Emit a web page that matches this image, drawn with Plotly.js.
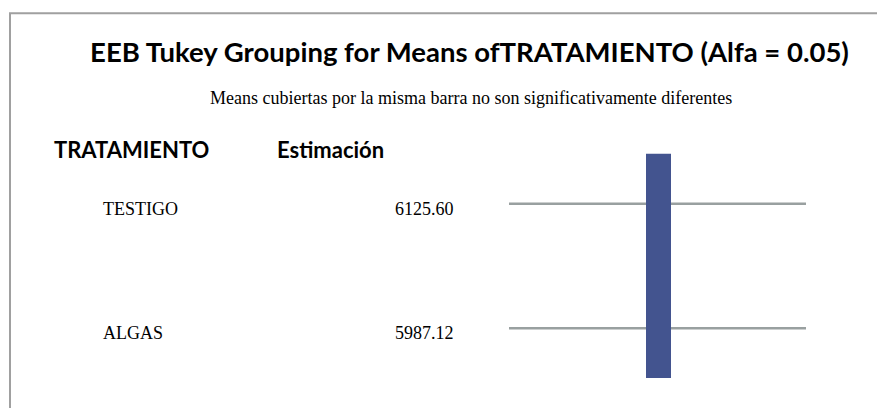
<!DOCTYPE html>
<html>
<head>
<meta charset="utf-8">
<script src="https://cdn.plot.ly/plotly-3.0.1.min.js"></script>
<style>html,body{margin:0;padding:0;background:#fff;}#chart{width:877px;height:408px;}</style>
</head>
<body>
<div id="chart"></div>
<script>
// ---- data ----
var treatments = ["TESTIGO", "ALGAS"];
var estimates = [6125.60, 5987.12];
var groupMembers = [["TESTIGO", "ALGAS"]];   // one Tukey group (same bar)
var headerLabels = ["TRATAMIENTO", "Estimación"];
var titleText = "EEB Tukey Grouping for Means ofTRATAMIENTO (Alfa = 0.05)";
var subtitleText = "Means cubiertas por la misma barra no son significativamente diferentes";

// ---- layout constants (column positions in x-axis units 0..1) ----
var W = 877, H = 408;
var nameX = 101 / W, valueRightX = 456 / W;
var lineX0 = 509 / W, lineX1 = 806 / W;
var barCenters = [658.5 / W], barHalfW = 12.5 / W, barPad = 0.4;

var traces = [];
// guide lines for each treatment row
treatments.forEach(function (t, i) {
  traces.push({
    type: "scatter", mode: "lines", x: [lineX0, lineX1], y: [i, i],
    line: { color: "#99a0a0", width: 2.5 }, hoverinfo: "skip", showlegend: false
  });
});
// group bars
groupMembers.forEach(function (g, k) {
  var idx = g.map(function (m) { return treatments.indexOf(m); });
  var lo = Math.min.apply(null, idx) - barPad, hi = Math.max.apply(null, idx) + barPad;
  var c = barCenters[k];
  traces.push({
    type: "scatter", mode: "lines", fill: "toself", fillcolor: "#43548f",
    x: [c - barHalfW, c + barHalfW, c + barHalfW, c - barHalfW, c - barHalfW],
    y: [lo, lo, hi, hi, lo],
    line: { width: 0, color: "#43548f" }, hoverinfo: "skip", showlegend: false
  });
});

var serif = "Liberation Serif, Times New Roman, serif";
var annotations = [];
treatments.forEach(function (t, i) {
  annotations.push({ xref: "x", yref: "y", x: nameX, y: i, text: t, showarrow: false,
    xanchor: "left", yanchor: "middle", yshift: -5, font: { family: serif, size: 18, color: "#000" } });
  annotations.push({ xref: "x", yref: "y", x: valueRightX, y: i, text: estimates[i].toFixed(2), showarrow: false,
    xanchor: "right", yanchor: "middle", yshift: -5, font: { family: serif, size: 18, color: "#000" } });
});
var headerX = [52 / W, 275 / W];
headerLabels.forEach(function (h, i) {
  annotations.push({ xref: "paper", yref: "paper", x: headerX[i], y: 1 - 149 / H, text: "<b>" + h + "</b>",
    showarrow: false, xanchor: "left", yanchor: "middle",
    font: { family: "Lato, Open Sans, sans-serif", size: 22, color: "#000" } });
});
annotations.push({ xref: "paper", yref: "paper", x: 471 / W, y: 1 - 98 / H, text: subtitleText,
  showarrow: false, xanchor: "center", yanchor: "middle",
  font: { family: serif, size: 18, color: "#000" } });

var layout = {
  width: W, height: H,
  margin: { l: 0, r: 0, t: 0, b: 0, pad: 0 },
  paper_bgcolor: "#fff", plot_bgcolor: "#fff",
  showlegend: false,
  title: { text: "<b>" + titleText + "</b>", x: 469.5 / W, xanchor: "center", xref: "paper",
    y: 1 - 52 / H, yanchor: "middle", yref: "paper",
    font: { family: "Lato, Open Sans, sans-serif", size: 27.5, color: "#000" } },
  xaxis: { visible: false, range: [0, 1], fixedrange: true },
  yaxis: { visible: false, range: [1.640, -1.635], fixedrange: true },
  shapes: [{ type: "rect", xref: "paper", yref: "paper", x0: 10 / W, x1: 1.05, y0: -0.05, y1: 1 - 13.3 / H,
    line: { color: "#a0a0a0", width: 2 }, layer: "below" }],
  annotations: annotations
};
Plotly.newPlot("chart", traces, layout, { displayModeBar: false, staticPlot: true });
</script>
</body>
</html>
